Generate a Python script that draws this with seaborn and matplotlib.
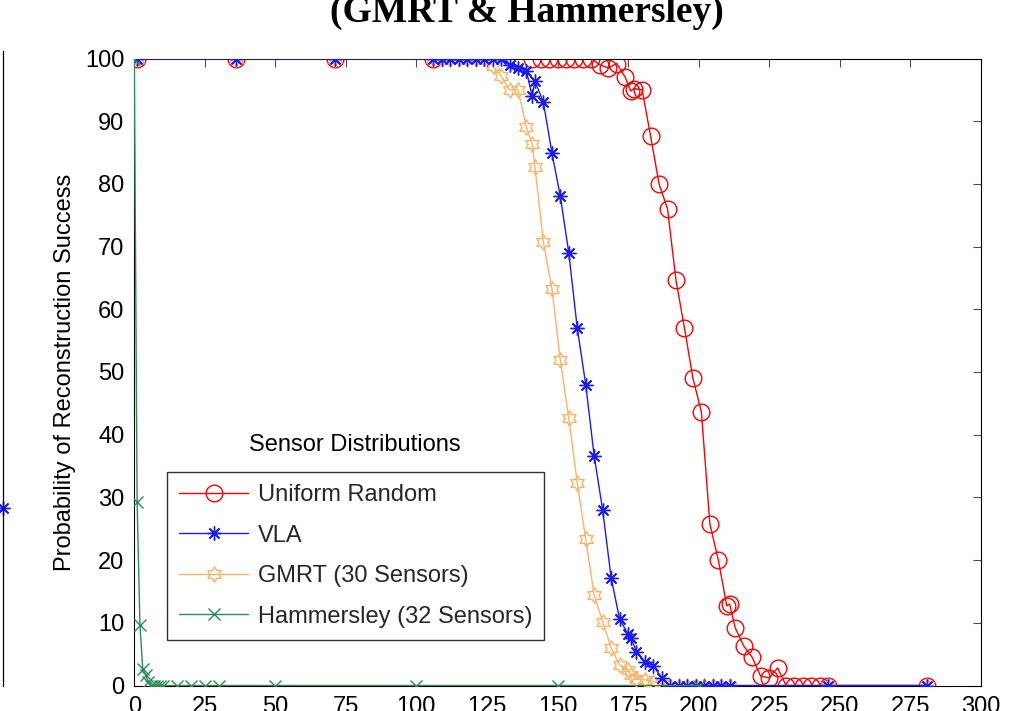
import numpy as np
import matplotlib
matplotlib.use("Agg")
import matplotlib.pyplot as plt
import seaborn as sns
from matplotlib.path import Path

# ---------------- data ----------------
uniform_x = [1, 36, 71, 106, 141, 144, 147, 150, 153, 156, 159, 162, 165, 168, 171, 174,
             176, 177, 180, 183, 186, 189, 192, 195, 198, 201, 204, 207, 210, 211, 213,
             216, 219, 222, 225, 228, 231, 234, 237, 240, 243, 246, 281]
uniform_y = [100, 100, 100, 100, 100, 100, 100, 100, 100, 100, 100, 100, 99.0, 98.5, 99.2, 97.0,
             94.8, 95.2, 95.0, 87.6, 80.0, 76.0, 64.6, 57.0, 49.0, 43.6, 25.8, 20.0, 12.7, 13.0, 9.2,
             6.3, 4.5, 1.5, 1.2, 2.8, 0, 0, 0, 0, 0, 0, 0]

vla_x = [1, 36, 71, 106, 109, 112, 115, 118, 121, 124, 127, 130, 133, 136, 139, 141, 142,
         145, 148, 151, 154, 157, 160, 163, 166, 169, 172, 175, 176, 178, 181, 184, 187,
         190, 193, 196, 199, 202, 205, 208, 211, 246, 281]
vla_y = [100, 100, 100, 100, 100, 100, 100, 100, 100, 100, 100, 100, 99.0, 98.5, 98.0, 94.0, 96.4,
         93.0, 85.0, 78.0, 69.0, 57.0, 48.0, 36.6, 28.0, 17.2, 10.6, 8.2, 7.6, 5.4, 3.8, 3.1, 1.2,
         0, 0, 0, 0, 0, 0, 0, 0, 0, 0]

gmrt_x = [1, 36, 71, 106, 109, 112, 115, 118, 121, 124, 127, 130, 133, 136, 139, 141, 142,
          145, 148, 151, 154, 157, 160, 163, 166, 169, 172, 175, 176, 178, 181, 184, 187,
          190, 193, 196, 199, 202, 205, 208, 211, 246, 281]
gmrt_y = [100, 100, 100, 100, 100, 100, 100, 100, 100, 100, 98.8, 97.2, 95.0, 95.0, 89.0, 86.4, 82.7,
          70.7, 63.3, 51.9, 42.6, 32.3, 23.3, 14.4, 10.2, 6.0, 3.3, 2.5, 1.7, 1.1, 0.9, 0.6, 0.3,
          0, 0, 0, 0, 0, 0, 0, 0, 0, 0]

hamm_x = [0, 1, 2, 3, 4, 5, 6, 7, 8, 9, 10, 15, 20, 25, 30, 50, 100, 150, 200]
hamm_y = [100, 29.2, 9.7, 2.6, 1.7, 0.6, 0, 0, 0, 0, 0, 0, 0, 0, 0, 0, 0, 0, 0]

left_panel_vla_y = [28]

series_labels = ["Uniform Random", "VLA", "GMRT (30 Sensors)", "Hammersley (32 Sensors)"]
legend_title = "Sensor Distributions"
title_line = "(GMRT & Hammersley)"
y_label = "Probability of Reconstruction Success"
x_ticks = [0, 25, 50, 75, 100, 125, 150, 175, 200, 225, 250, 275, 300]
y_ticks = [0, 10, 20, 30, 40, 50, 60, 70, 80, 90, 100]

# ---------------- style ----------------
sns.set_theme(style="white")
plt.rcParams['font.family'] = ['Liberation Sans', 'DejaVu Sans']

W, H = 1014, 711
fig = plt.figure(figsize=(W / 100, H / 100), dpi=100)
fig.patch.set_facecolor("white")

ax_l, ax_r, ax_t, ax_b = 134.3, 980.7, 58.5, 685.5
ax = fig.add_axes([ax_l / W, 1 - ax_b / H, (ax_r - ax_l) / W, (ax_b - ax_t) / H])
ax.set_facecolor("white")

# hexagram marker (MATLAB 'h')
ang = np.deg2rad(90 + 30 * np.arange(12))
rad = np.where(np.arange(12) % 2 == 0, 1.0, 1 / np.sqrt(3))
hex_verts = np.column_stack([rad * np.cos(ang), rad * np.sin(ang)])
hex_verts = np.vstack([hex_verts, hex_verts[:1]])
hexagram = Path(hex_verts, closed=True)

red = "#ff0000"
blue = "#1a1aff"
orange = "#ffb266"
green = "#2e8b57"

common = dict(ax=ax, estimator=None, linewidth=1.0, markerfacecolor="none")
sns.lineplot(x=uniform_x, y=uniform_y, color=red, marker="o", markersize=12,
             markeredgecolor=red, markeredgewidth=1.0, label=series_labels[0], zorder=2, **common)
sns.lineplot(x=gmrt_x, y=gmrt_y, color=orange, marker=hexagram, markersize=11,
             markeredgecolor=orange, markeredgewidth=1.0, label=series_labels[2], zorder=3, **common)
sns.lineplot(x=vla_x, y=vla_y, color=blue, marker=(8, 2, 0), markersize=10,
             markeredgecolor=blue, markeredgewidth=1.0, label=series_labels[1], zorder=4, **common)
sns.lineplot(x=hamm_x, y=hamm_y, color=green, marker="x", markersize=8,
             markeredgecolor=green, markeredgewidth=1.0, label=series_labels[3], zorder=5, **common)

ax.set_xlim(0, 300)
ax.set_ylim(0, 100)
ax.set_xticks(x_ticks)
ax.set_yticks(y_ticks)
ax.grid(False)
for s in ax.spines.values():
    s.set_visible(True)
    s.set_color("black")
    s.set_linewidth(0.8)
ax.tick_params(axis="both", direction="in", length=5.5, width=0.8, color="0.3",
               top=True, right=True, labelsize=17, labelcolor="black")
ax.tick_params(axis="x", pad=7.7)
ax.tick_params(axis="y", pad=7)
for lab in ax.get_xticklabels() + ax.get_yticklabels():
    lab.set_clip_on(False)

ax.set_xlabel("")
ax.set_ylabel(y_label, fontsize=17, color="black")
ax.yaxis.set_label_coords(-0.069, 0.5)

# legend (title drawn above the frame, MATLAB style)
handles, labels = ax.get_legend_handles_labels()
order = [labels.index(l) for l in series_labels]
leg = ax.legend([handles[i] for i in order], [labels[i] for i in order],
                loc="upper left", bbox_to_anchor=((167 - ax_l) / (ax_r - ax_l), (ax_b - 472) / (ax_b - ax_t)),
                borderaxespad=0, frameon=True, fancybox=False, framealpha=1, edgecolor="0.2",
                fontsize=17, handlelength=2.9, handletextpad=0.42, labelspacing=0.78,
                borderpad=0.52, numpoints=1)
leg.get_frame().set_linewidth(1.0)
ax.text((355 - ax_l) / (ax_r - ax_l), (ax_b - 445) / (ax_b - ax_t), legend_title,
        transform=ax.transAxes, ha="center", va="center", fontsize=17, color="black")

# title (second line visible at the top of the crop)
fig.text(527 / W, 1 - 22 / H, title_line, ha="center", va="baseline", fontsize=27,
         fontweight="bold", family=["Liberation Serif", "DejaVu Serif"], color="black")

# fragment of the neighbouring panel at the left edge
axn = fig.add_axes([-0.5, 1 - 686 / H, 0.5 + 3 / W, (686 - 50.6) / H])
axn.set_xlim(0, 1)
axn.set_ylim(0, 100)
axn.set_facecolor("none")
for k in ["top", "bottom", "left"]:
    axn.spines[k].set_visible(False)
axn.spines["right"].set_color("black")
axn.spines["right"].set_linewidth(0.9)
axn.set_xticks([])
axn.set_yticks([])
sns.lineplot(x=[1] * len(left_panel_vla_y), y=left_panel_vla_y, ax=axn, color=blue,
             marker=(8, 2, 0), markersize=10, markeredgecolor=blue, markeredgewidth=1.0,
             linewidth=0, clip_on=False)

fig.savefig("out.png", dpi=100, facecolor="white")
